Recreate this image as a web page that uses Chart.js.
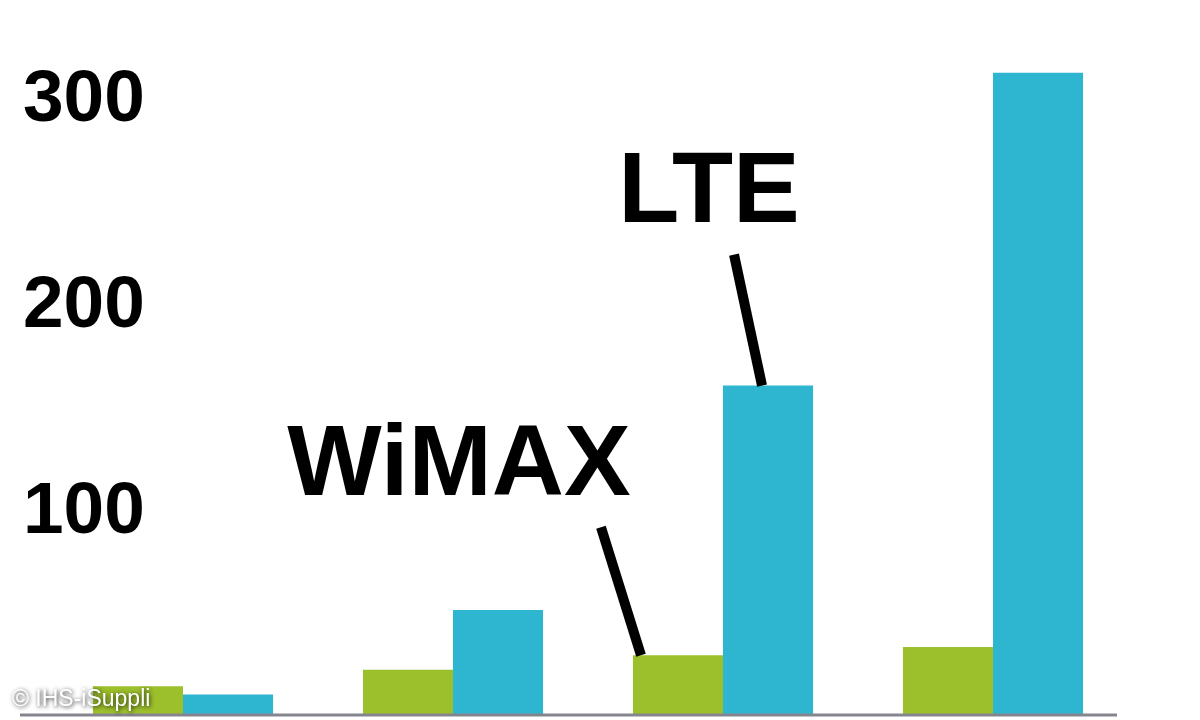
<!DOCTYPE html>
<html>
<head>
<meta charset="utf-8">
<script src="https://cdn.jsdelivr.net/npm/chart.js@4.4.1/dist/chart.umd.min.js"></script>
<style>
  html, body { margin: 0; padding: 0; background: #fff; }
  canvas { display: block; }
</style>
</head>
<body>
<canvas id="chart" width="1200" height="720"></canvas>
<script>
"use strict";
// categories are not labelled in the picture
const categories = ['1', '2', '3', '4'];
const wimaxValues = [14, 22, 29, 33];
const lteValues = [10, 51, 160, 312];
const yTicks = [100, 200, 300];
const seriesNames = ['WiMAX', 'LTE'];

const FONT = "'Liberation Sans', Arial, sans-serif";

// labels with leader lines, anchored to a bar of the third group
const callouts = [
    { text: seriesNames[1], dataset: 1, index: 2, lineFrom: [-34, -131], lineTo: [-6, 0], textAt: [-59, -164] },
    { text: seriesNames[0], dataset: 0, index: 2, lineFrom: [-77, -128], lineTo: [-37, 0], textAt: [-219, -160] }
];

const decorations = {
    id: 'decorations',
    afterDatasetsDraw(chart) {
        const ctx = chart.ctx;
        const area = chart.chartArea;
        const y0 = chart.scales.y.getPixelForValue(0);
        ctx.save();
        // baseline
        ctx.strokeStyle = '#85858f';
        ctx.lineWidth = 3;
        ctx.beginPath();
        ctx.moveTo(area.left - 28, y0);
        ctx.lineTo(area.right - 11, y0);
        ctx.stroke();

        // callouts
        callouts.forEach(c => {
            const bar = chart.getDatasetMeta(c.dataset).data[c.index];
            ctx.strokeStyle = '#000';
            ctx.lineWidth = 10;
            ctx.beginPath();
            ctx.moveTo(bar.x + c.lineFrom[0], bar.y + c.lineFrom[1]);
            ctx.lineTo(bar.x + c.lineTo[0], bar.y + c.lineTo[1]);
            ctx.stroke();
            ctx.fillStyle = '#000';
            ctx.font = 'bold 100px ' + FONT;
            ctx.textAlign = 'center';
            ctx.textBaseline = 'alphabetic';
            ctx.fillText(c.text, bar.x + c.textAt[0], bar.y + c.textAt[1]);
        });

        // source note
        ctx.font = '23px ' + FONT;
        ctx.textAlign = 'left';
        ctx.textBaseline = 'alphabetic';
        ctx.shadowColor = 'rgba(0,0,0,0.85)';
        ctx.shadowBlur = 4;
        ctx.shadowOffsetX = 1;
        ctx.shadowOffsetY = 1;
        ctx.fillStyle = '#ffffff';
        ctx.fillText('\u00A9 IHS-iSuppli', 12, 706);
        ctx.restore();
    }
};

new Chart(document.getElementById('chart'), {
    type: 'bar',
    data: {
        labels: categories,
        datasets: [
            { label: seriesNames[0], data: wimaxValues, backgroundColor: '#9cbf2c' },
            { label: seriesNames[1], data: lteValues, backgroundColor: '#2eb6d0' }
        ]
    },
    options: {
        responsive: false,
        animation: false,
        layout: { padding: { left: 22, right: 72, top: 15, bottom: 5 } },
        datasets: {
            bar: { categoryPercentage: 0.667, barPercentage: 1.0, borderWidth: 0 }
        },
        plugins: {
            legend: { display: false },
            tooltip: { enabled: false }
        },
        scales: {
            x: {
                display: false,
                grid: { display: false }
            },
            y: {
                min: 0,
                max: 340,
                grid: { display: false },
                border: { display: false },
                afterBuildTicks: scale => {
                    scale.ticks = yTicks.map(v => ({ value: v }));
                },
                afterFit: scale => {
                    scale.width = 26;
                    scale.paddingTop = 0;
                    scale.paddingBottom = 0;
                },
                ticks: {
                    mirror: true,
                    padding: -25,
                    labelOffset: 4,
                    color: '#000',
                    font: { family: FONT, size: 73, weight: 'bold' }
                }
            }
        }
    },
    plugins: [decorations]
});
</script>
</body>
</html>
